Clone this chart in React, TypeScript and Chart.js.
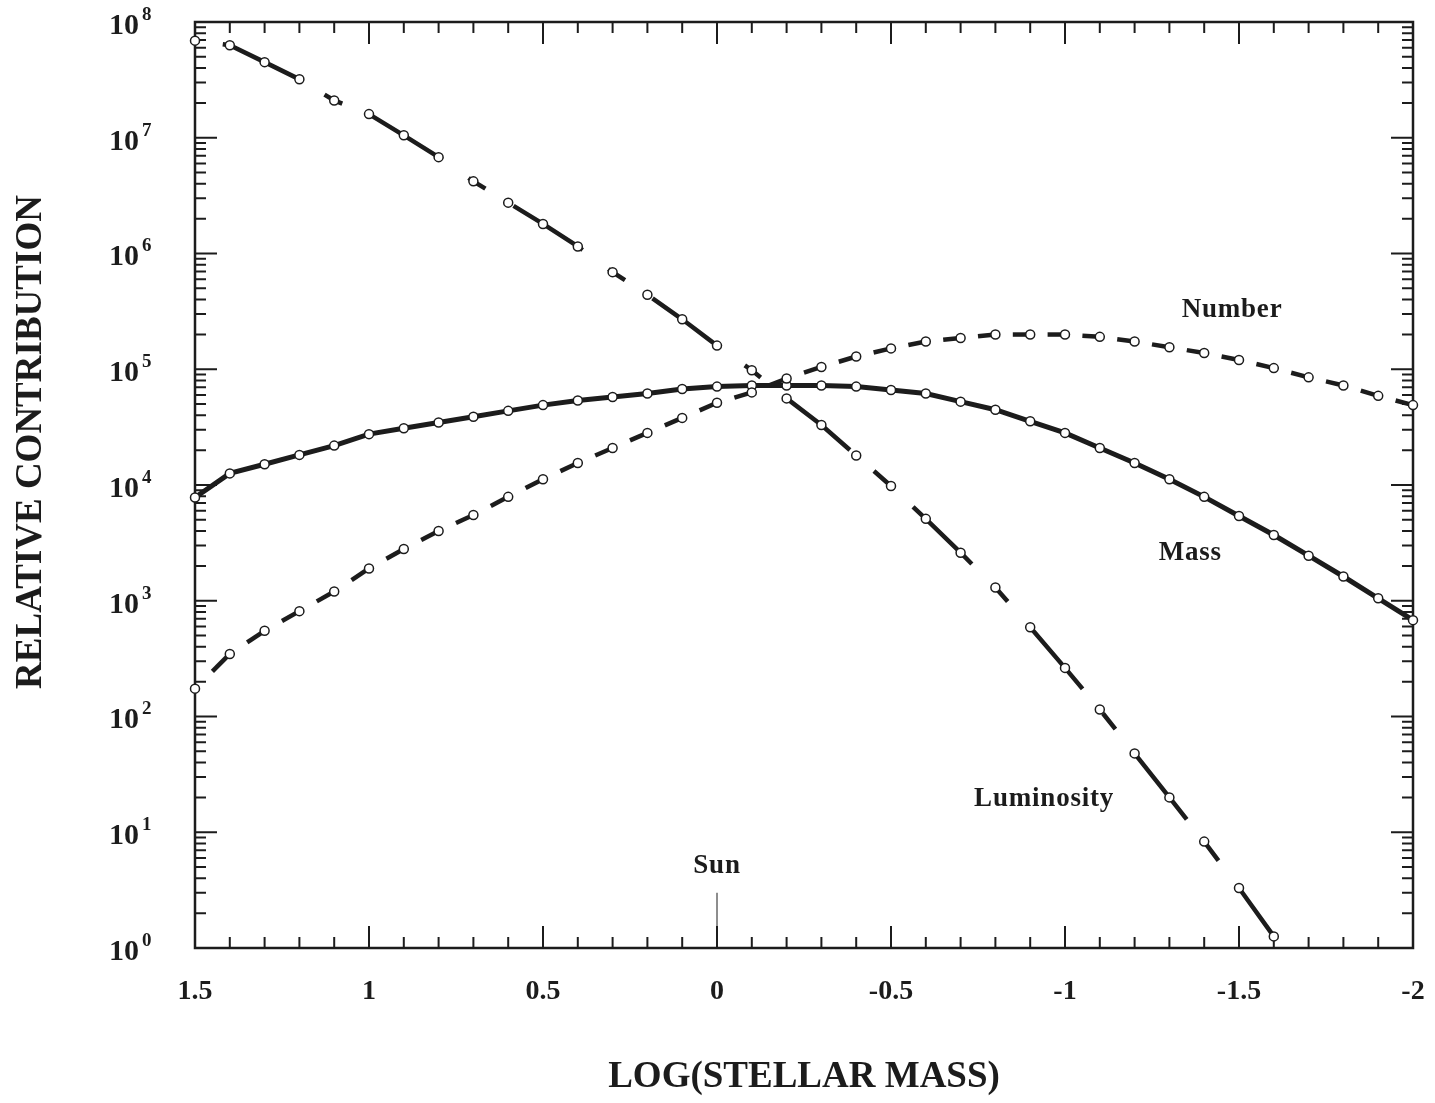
import React, { useEffect, useRef } from 'react';
import { Chart, registerables } from 'chart.js';

Chart.register(...registerables);

// ---- data ----
const LOG_MASS: number[] = [
  1.5, 1.4, 1.3, 1.2, 1.1, 1.0, 0.9, 0.8, 0.7, 0.6, 0.5, 0.4, 0.3, 0.2, 0.1, 0.0,
  -0.1, -0.2, -0.3, -0.4, -0.5, -0.6, -0.7, -0.8, -0.9, -1.0, -1.1, -1.2, -1.3, -1.4,
  -1.5, -1.6, -1.7, -1.8, -1.9, -2.0,
];

const LUMINOSITY: number[] = [
  6.9e7, 6.3e7, 4.5e7, 3.2e7, 2.1e7, 1.6e7, 1.05e7, 6.8e6, 4.2e6, 2.75e6, 1.8e6, 1.15e6,
  6.9e5, 4.4e5, 2.7e5, 1.6e5, 9.8e4, 5.6e4, 3.3e4, 1.8e4, 9.8e3, 5.1e3, 2.6e3, 1.3e3,
  590, 263, 115, 48, 20, 8.3, 3.3, 1.26,
];

const NUMBER: number[] = [
  174, 347, 550, 813, 1200, 1900, 2800, 4000, 5500, 7900, 11200, 15500, 20900, 28200,
  38000, 51300, 63100, 83200, 104700, 128800, 151400, 173800, 186200, 199500, 199500,
  199500, 190500, 173800, 154900, 138000, 120200, 102300, 85100, 72400, 58900, 49000,
];

const MASS: number[] = [
  7800, 12600, 15100, 18200, 21900, 27500, 30900, 34700, 38900, 43700, 49000, 53700,
  57500, 61700, 67600, 70800, 72400, 72400, 72400, 70800, 66100, 61700, 52500, 44700,
  35500, 28200, 20900, 15500, 11200, 7900, 5400, 3700, 2450, 1620, 1050, 680,
];

const X_TICK_LABELS: string[] = ['1.5', '1', '0.5', '0', '-0.5', '-1', '-1.5', '-2'];
const Y_DECADE_EXPONENTS: number[] = [0, 1, 2, 3, 4, 5, 6, 7, 8];

// annotations in data coordinates
const SERIES_NAMES: string[] = ['Number', 'Mass', 'Luminosity'];
const SERIES_NAME_X: number[] = [-1.48, -1.36, -0.94];
const SERIES_NAME_Y: number[] = [3.24e5, 2570, 19.5];
const SUN_LABEL = 'Sun';
const SUN_X = 0;
const SUN_LABEL_Y = 5.1;
const SUN_LINE_TOP = 3.0;

const FONT = "'Liberation Serif', 'Times New Roman', serif";
const INK = '#1c1c1c';
const W = 1435;
const H = 1103;

const toPoints = (vals: number[]) => vals.map((v, i) => ({ x: LOG_MASS[i], y: v }));

const segLen = (c: any) => Math.hypot(c.p1.x - c.p0.x, c.p1.y - c.p0.y);

const figurePlugin = {
  id: 'figureDecor',
  beforeDatasetsDraw(chart: any) {
    const { ctx, chartArea: a, scales } = chart;
    const xs = scales.x;
    const ys = scales.y;
    ctx.save();
    ctx.strokeStyle = INK;
    ctx.lineWidth = 2.5;
    ctx.strokeRect(a.left, a.top, a.right - a.left, a.bottom - a.top);

    ctx.lineWidth = 2;
    ctx.beginPath();
    for (let i = -20; i <= 15; i++) {
      const px = xs.getPixelForValue(i / 10);
      const len = i % 5 === 0 ? 22 : 11;
      ctx.moveTo(px, a.bottom);
      ctx.lineTo(px, a.bottom - len);
      ctx.moveTo(px, a.top);
      ctx.lineTo(px, a.top + len);
    }
    for (let d = 0; d <= 8; d++) {
      for (let k = 1; k <= 9; k++) {
        if (d === 8 && k > 1) break;
        const py = ys.getPixelForValue(k * Math.pow(10, d));
        const len = k === 1 ? 22 : 11;
        ctx.moveTo(a.left, py);
        ctx.lineTo(a.left + len, py);
        ctx.moveTo(a.right, py);
        ctx.lineTo(a.right - len, py);
      }
    }
    ctx.stroke();

    // Sun marker line
    ctx.lineWidth = 1;
    ctx.beginPath();
    const sx = xs.getPixelForValue(SUN_X);
    ctx.moveTo(sx, ys.getPixelForValue(SUN_LINE_TOP));
    ctx.lineTo(sx, a.bottom);
    ctx.stroke();
    ctx.restore();
  },
  afterDraw(chart: any) {
    const { ctx, chartArea: a, scales } = chart;
    const xs = scales.x;
    const ys = scales.y;
    ctx.save();
    ctx.fillStyle = INK;

    // y tick labels 10^n
    Y_DECADE_EXPONENTS.forEach((e) => {
      const py = ys.getPixelForValue(Math.pow(10, e));
      ctx.font = `bold 30px ${FONT}`;
      ctx.textAlign = 'right';
      ctx.textBaseline = 'middle';
      ctx.fillText('10', a.left - 56, py + 4);
      ctx.font = `bold 19px ${FONT}`;
      ctx.textAlign = 'left';
      ctx.fillText(String(e), a.left - 53, py - 7);
    });

    // y axis title
    ctx.save();
    ctx.translate(31, 442);
    ctx.rotate(-Math.PI / 2);
    ctx.font = `bold 37px ${FONT}`;
    ctx.textAlign = 'center';
    ctx.textBaseline = 'middle';
    ctx.fillText('RELATIVE CONTRIBUTION', 0, 0);
    ctx.restore();

    // series names
    ctx.font = `bold 27px ${FONT}`;
    ctx.textAlign = 'center';
    ctx.textBaseline = 'middle';
    try { (ctx as any).letterSpacing = '0.8px'; } catch (e) { /* ignore */ }
    SERIES_NAMES.forEach((name, i) => {
      ctx.fillText(name, xs.getPixelForValue(SERIES_NAME_X[i]), ys.getPixelForValue(SERIES_NAME_Y[i]));
    });
    ctx.fillText(SUN_LABEL, xs.getPixelForValue(SUN_X), ys.getPixelForValue(SUN_LABEL_Y));
    ctx.restore();
  },
};

export default function App() {
  const canvasRef = useRef<HTMLCanvasElement | null>(null);

  useEffect(() => {
    const canvas = canvasRef.current;
    if (!canvas) return;
    const lineCommon = {
      borderColor: INK,
      borderWidth: 4.5,
      pointRadius: 4.5,
      pointBorderWidth: 1.5,
      pointBackgroundColor: '#ffffff',
      pointBorderColor: INK,
      fill: false,
      tension: 0,
      clip: false as any,
    };
    const chart = new Chart(canvas, {
      type: 'line',
      data: {
        datasets: [
          {
            ...lineCommon,
            label: 'Luminosity',
            data: toPoints(LUMINOSITY),
            borderDash: [82, 32, 20, 33],
            borderDashOffset: 139,
          },
          {
            ...lineCommon,
            label: 'Number',
            data: toPoints(NUMBER),
            segment: {
              borderDash: (c: any) => {
                const L = segLen(c);
                return [L * 0.5, L * 0.5];
              },
              borderDashOffset: (c: any) => segLen(c) * 0.5,
            },
          },
          {
            ...lineCommon,
            label: 'Mass',
            borderWidth: 5,
            data: toPoints(MASS),
          },
        ],
      },
      options: {
        animation: false,
        responsive: false,
        maintainAspectRatio: false,
        devicePixelRatio: 1,
        layout: { padding: { left: 0, top: 22, right: 22, bottom: 0 } },
        plugins: {
          legend: { display: false },
          tooltip: { enabled: false },
        },
        scales: {
          x: {
            type: 'linear',
            reverse: true,
            min: -2,
            max: 1.5,
            grid: { display: false, drawTicks: false },
            border: { display: false },
            ticks: {
              stepSize: 0.5,
              autoSkip: false,
              maxRotation: 0,
              padding: 27,
              color: INK,
              font: { family: FONT, size: 28, weight: 'bold' },
              callback: (value: any) => {
                const idx = Math.round((1.5 - Number(value)) / 0.5);
                return X_TICK_LABELS[idx] ?? '';
              },
            },
            title: {
              display: true,
              text: 'LOG(STELLAR MASS)',
              color: INK,
              font: { family: FONT, size: 37, weight: 'bold' },
              padding: { top: 0, bottom: 3 },
            },
            afterFit: (scale: any) => {
              scale.height = 155;
              scale.paddingLeft = 0;
              scale.paddingRight = 0;
            },
          },
          y: {
            type: 'logarithmic',
            min: 1,
            max: 1e8,
            grid: { display: false, drawTicks: false },
            border: { display: false },
            ticks: { display: false },
            title: { display: false },
            afterFit: (scale: any) => {
              scale.width = 195;
              scale.paddingTop = 0;
              scale.paddingBottom = 0;
            },
          },
        },
      },
      plugins: [figurePlugin],
    });
    return () => chart.destroy();
  }, []);

  return (
    <div style={{ position: 'fixed', left: 0, top: 0, width: `${W}px`, height: `${H}px`, background: '#ffffff' }}>
      <canvas ref={canvasRef} width={W} height={H} style={{ display: 'block', width: `${W}px`, height: `${H}px` }} />
    </div>
  );
}
